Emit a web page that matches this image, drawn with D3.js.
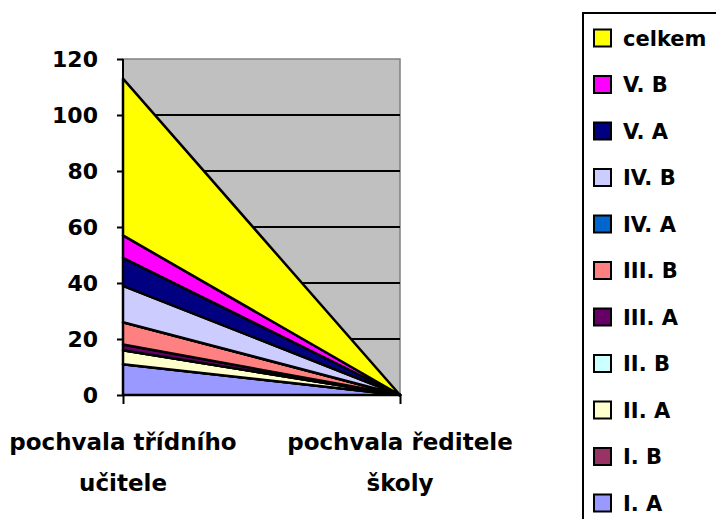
<!DOCTYPE html>
<meta charset="utf-8">
<title>pochvaly</title>
<style>
body { margin: 0; background: #fff; }
svg text { font-family: "DejaVu Sans", sans-serif; font-weight: bold; fill: #000; }
</style>
<svg width="716" height="519"></svg>
<script src="https://cdn.jsdelivr.net/npm/d3@7"></script>
<script>

// categories on the x axis (each label split in two lines)
var categories = ["pochvala třídního učitele", "pochvala ředitele školy"];
var categoryLines = [["pochvala třídního", "učitele"], ["pochvala ředitele", "školy"]];

// series in stacking order (bottom first)
var seriesNames = ["I. A", "I. B", "II. A", "II. B", "III. A", "III. B", "IV. A", "IV. B", "V. A", "V. B", "celkem"];
var seriesColors = ["#9999ff", "#993366", "#ffffcc", "#ccffff", "#660066", "#ff8080", "#0066cc", "#ccccff", "#000080", "#ff00ff", "#ffff00"];
var valuesTridni = [11, 0, 5, 0, 2, 8, 0, 13, 10, 8, 56];
var valuesReditel = [0, 0, 0, 0, 0, 0, 0, 0, 0, 0, 0];

var yTicks = [0, 20, 40, 60, 80, 100, 120];

var svg = d3.select("svg");

var rows = [valuesTridni, valuesReditel].map(function(vals, i) {
  var r = { cat: categories[i] };
  seriesNames.forEach(function(s, j) { r[s] = vals[j]; });
  return r;
});

var stacked = d3.stack().keys(seriesNames)(rows);

var x = d3.scalePoint().domain(categories).range([123, 400]);
var y = d3.scaleLinear().domain([0, 120]).range([395, 59]);

// plot area
svg.append("rect")
  .attr("x", 123).attr("y", y(120))
  .attr("width", 400 - 123).attr("height", y(0) - y(120))
  .attr("fill", "#c0c0c0")
  .attr("stroke", "#808080").attr("stroke-width", 1.5);

// grid lines
svg.append("g")
  .selectAll("line")
  .data(yTicks.filter(function(t) { return t > 0 && t < 120; }))
  .enter().append("line")
  .attr("x1", 123).attr("x2", 400)
  .attr("y1", function(d) { return y(d); })
  .attr("y2", function(d) { return y(d); })
  .attr("stroke", "#000").attr("stroke-width", 2);

var area = d3.area()
  .x(function(d) { return x(d.data.cat); })
  .y0(function(d) { return y(d[0]); })
  .y1(function(d) { return y(d[1]); });

svg.append("g")
  .selectAll("path")
  .data(stacked)
  .enter().append("path")
  .attr("d", area)
  .attr("fill", function(d, i) { return seriesColors[i]; })
  .attr("stroke", "#000")
  .attr("stroke-width", 2.5)
  .attr("stroke-linejoin", "round");

// y axis
var yAxis = svg.append("g")
  .attr("transform", "translate(123,0)")
  .call(d3.axisLeft(y).tickValues(yTicks).tickSize(6).tickPadding(19));
yAxis.selectAll("text").style("font-size", "22px");
yAxis.selectAll("line, path").attr("stroke", "#000").attr("stroke-width", 2);
yAxis.select(".domain").attr("d", "M0," + y(120) + "V" + y(0));

// x axis
var xAxis = svg.append("g")
  .attr("transform", "translate(0," + y(0) + ")")
  .call(d3.axisBottom(x).tickSize(9).tickFormat(""));
xAxis.selectAll("line, path").attr("stroke", "#000").attr("stroke-width", 2);
xAxis.select(".domain").attr("d", "M123,0H400");

svg.append("g")
  .selectAll("text")
  .data(categories)
  .enter().append("text")
  .attr("x", function(d) { return x(d); })
  .attr("y", 450)
  .attr("text-anchor", "middle")
  .style("font-size", "23px")
  .selectAll("tspan")
  .data(function(d, i) { return categoryLines[i]; })
  .enter().append("tspan")
  .attr("x", function() { return x(d3.select(this.parentNode).datum()); })
  .attr("dy", function(d, i) { return i ? 41 : 0; })
  .text(function(d) { return d; });

// legend
svg.append("rect")
  .attr("x", 583).attr("y", 13)
  .attr("width", 150).attr("height", 520)
  .attr("fill", "#fff").attr("stroke", "#000").attr("stroke-width", 2);

var legendOrder = seriesNames.slice().reverse();
var legend = svg.append("g")
  .selectAll("g")
  .data(legendOrder)
  .enter().append("g")
  .attr("transform", function(d, i) { return "translate(594," + (38 + i * 46.5) + ")"; });

legend.append("rect")
  .attr("x", 0).attr("y", -8.5)
  .attr("width", 17).attr("height", 17)
  .attr("fill", function(d) { return seriesColors[seriesNames.indexOf(d)]; })
  .attr("stroke", "#000").attr("stroke-width", 2);

legend.append("text")
  .attr("x", 29).attr("y", 0)
  .attr("dy", "0.36em")
  .style("font-size", "21px")
  .text(function(d) { return d; });

</script>
